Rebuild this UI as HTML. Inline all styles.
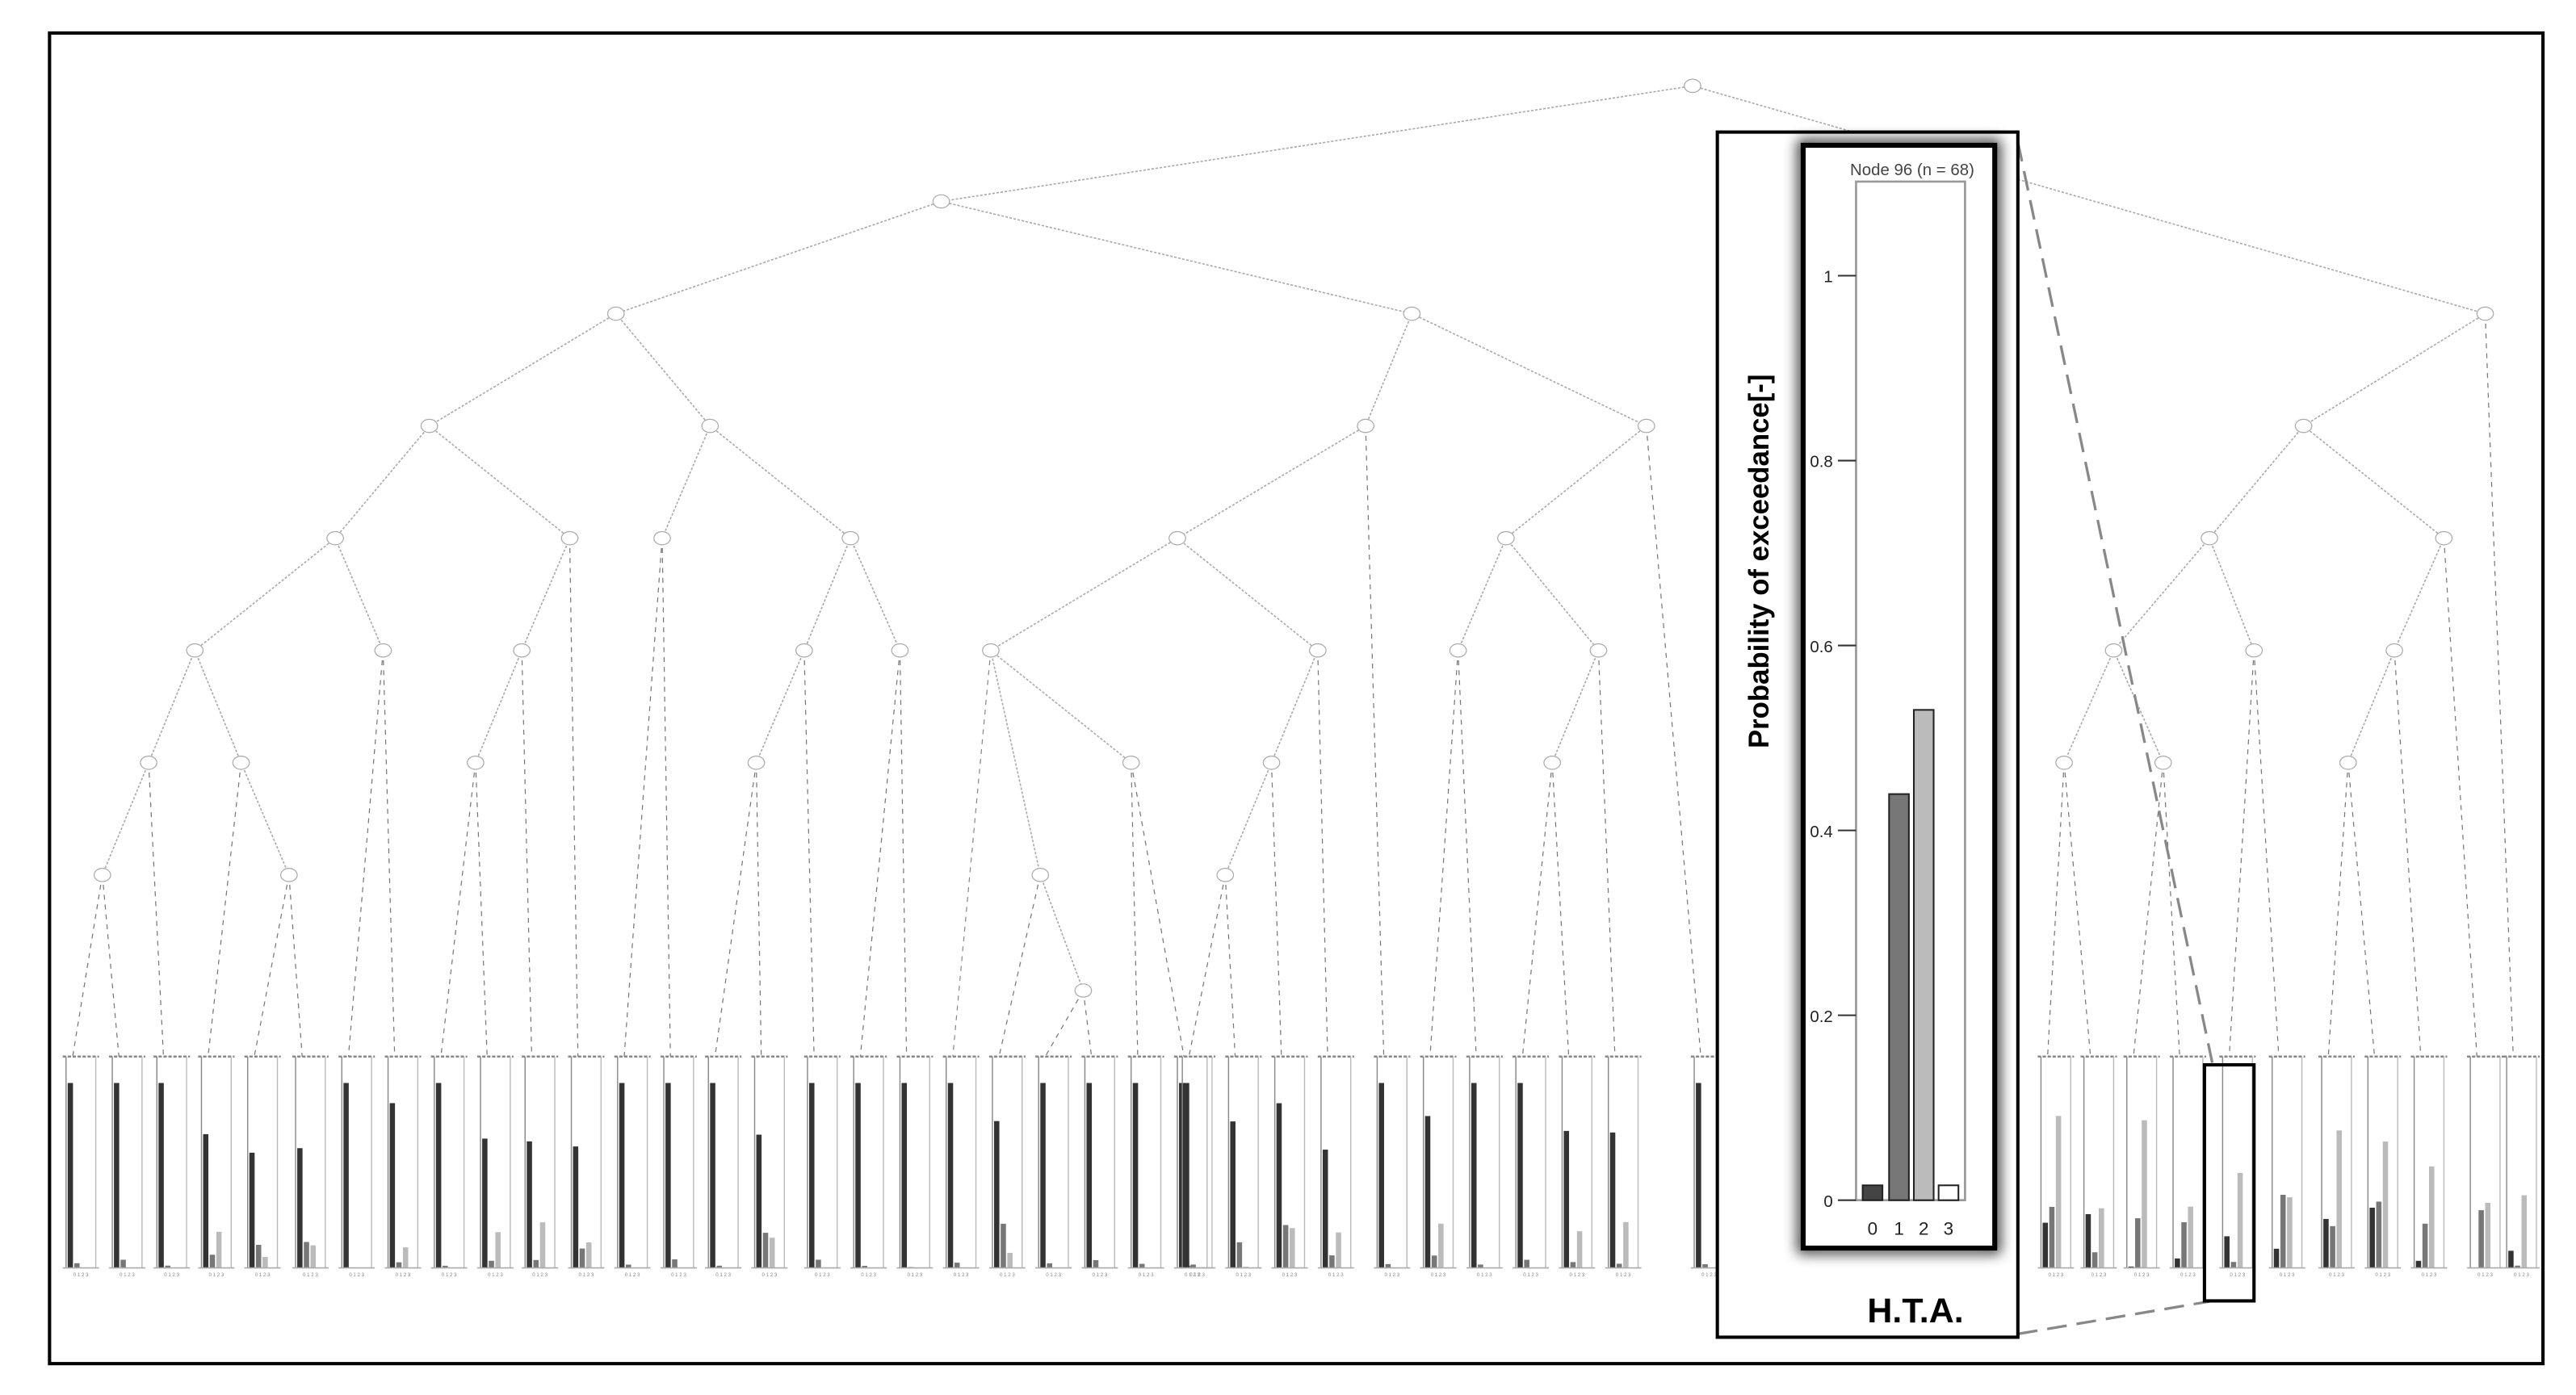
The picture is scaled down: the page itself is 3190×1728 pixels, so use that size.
<!DOCTYPE html>
<html><head><meta charset="utf-8"><style>
html,body{margin:0;padding:0;background:#fff;width:3190px;height:1728px;overflow:hidden}
svg{display:block}
</style></head><body>
<svg id="s" width="3190" height="1728" viewBox="0 0 1560 845" preserveAspectRatio="none" xmlns="http://www.w3.org/2000/svg">
<defs>
<filter id="sh" x="-30%" y="-10%" width="160%" height="120%"><feGaussianBlur stdDeviation="4"/></filter>
</defs>
<rect x="0" y="0" width="1560" height="845" fill="#fff"/>
<rect x="30" y="20" width="1510" height="806" fill="none" stroke="#000" stroke-width="2"/>
<g id="tree"></g>
<line x1="1222" y1="86" x2="1340" y2="645" stroke="#888" stroke-width="1.6" stroke-dasharray="12,6"/>
<line x1="1222" y1="808" x2="1340" y2="788" stroke="#888" stroke-width="1.6" stroke-dasharray="12,6"/>
<rect x="1335" y="645" width="30" height="143" fill="none" stroke="#000" stroke-width="2"/>
<rect x="1040" y="80" width="182" height="730" fill="#fff" stroke="#000" stroke-width="2"/>
<rect x="1092" y="88" width="116" height="668" fill="none" stroke="#000" stroke-width="7" filter="url(#sh)" opacity="0.8"/>
<rect x="1092" y="88" width="116" height="668" fill="#fff" stroke="#000" stroke-width="3"/>
<text x="1158" y="106" font-family="Liberation Sans, sans-serif" font-size="10" text-anchor="middle" fill="#444">Node 96 (n = 68)</text>
<rect x="1124" y="110" width="66" height="617" fill="none" stroke="#999" stroke-width="1.3"/>
<g font-family="Liberation Sans, sans-serif" font-size="10" fill="#222" text-anchor="end">
<text x="1110" y="171">1</text><line x1="1113" y1="167" x2="1124" y2="167" stroke="#333"/>
<text x="1110" y="283">0.8</text><line x1="1113" y1="279" x2="1124" y2="279" stroke="#333"/>
<text x="1110" y="395">0.6</text><line x1="1113" y1="391" x2="1124" y2="391" stroke="#333"/>
<text x="1110" y="507">0.4</text><line x1="1113" y1="503" x2="1124" y2="503" stroke="#333"/>
<text x="1110" y="619">0.2</text><line x1="1113" y1="615" x2="1124" y2="615" stroke="#333"/>
<text x="1110" y="731">0</text><line x1="1113" y1="727" x2="1124" y2="727" stroke="#333"/>
</g>
<rect x="1128" y="718" width="12" height="9" fill="#444" stroke="#222"/>
<rect x="1144" y="481" width="12" height="246" fill="#777" stroke="#222"/>
<rect x="1159" y="430" width="12" height="297" fill="#bbb" stroke="#222"/>
<rect x="1174" y="718" width="12" height="9" fill="#fff" stroke="#222"/>
<g font-family="Liberation Sans, sans-serif" font-size="11" fill="#222" text-anchor="middle">
<text x="1134" y="748">0</text><text x="1150" y="748">1</text><text x="1165" y="748">2</text><text x="1180" y="748">3</text>
</g>
<text transform="translate(1071,340) rotate(-90)" font-family="Liberation Sans, sans-serif" font-size="17" font-weight="bold" text-anchor="middle" fill="#000">Probability of exceedance[-]</text>
<text x="1160" y="801" font-family="Liberation Sans, sans-serif" font-size="21" font-weight="bold" text-anchor="middle" fill="#000">H.T.A.</text>
</svg>
<script>
(function(){
var g=document.getElementById('tree'),NS='http://www.w3.org/2000/svg';
function el(n,a){var e=document.createElementNS(NS,n);for(var k in a)e.setAttribute(k,a[k]);g.appendChild(e);return e;}
var N={r:[1025,52],a:[570,122],R:[1505,190],b:[373,190],c:[855,190],d:[260,258],e:[430,258],f:[203,326],h:[345,326],i:[118,394],j:[232,394],k:[90,462],l:[146,462],m:[62,530],n:[175,530],o:[316,394],p:[288,462],q:[401,326],s:[515,326],t:[487,394],u:[545,394],v:[458,462],w:[827,258],x:[997,258],y:[713,326],z:[600,394],A:[798,394],B:[630,530],C:[656,600],D:[685,462],E:[770,462],F:[742,530],G:[912,326],H:[883,394],I:[968,394],J:[940,462],K:[1395,258],L:[1338,326],M:[1480,326],O:[1280,394],P:[1365,394],Q:[1250,462],S:[1310,462],T:[1450,394],U:[1422,462]};
var E=[['r','a'],['r','R'],['a','b'],['a','c'],['b','d'],['b','e'],['d','f'],['d','h'],['f','i'],['f','j'],['i','k'],['i','l'],['k','m'],['k',99],['m',44],['m',72],['l',126],['l','n'],['n',154],['n',183],['j',211],['j',239],['h','o'],['h',350],['o','p'],['o',322],['p',267],['p',295],['e','q'],['e','s'],['q',378],['q',406],['s','t'],['s','u'],['t','v'],['t',493],['v',433],['v',461],['u',521],['u',549],['c','w'],['c','x'],['w','y'],['w',838],['y','z'],['y','A'],['z','B'],['z','D'],['B',605],['B','C'],['C',633],['C',661],['D',689],['D',717],['A','E'],['A',804],['E','F'],['E',776],['F',748],['F',720],['x','G'],['x',1030],['G','H'],['G','I'],['H',866],['H',894],['I','J'],['I',978],['J',922],['J',950],['R','K'],['R',1522],['K','L'],['K','M'],['L','O'],['L','P'],['O','Q'],['O','S'],['Q',1240],['Q',1266],['S',1292],['S',1320],['P',1350],['P',1380],['M','T'],['M',1500],['T','U'],['T',1466],['U',1410],['U',1438]];
var leaves=[577];
el('line',{x1:600,y1:394,x2:577,y2:640,stroke:'#888','stroke-width':0.6,'stroke-dasharray':'3,3'});
E.forEach(function(ed){var a=N[ed[0]],b;
 if(typeof ed[1]==='number'){b=[ed[1],640];leaves.push(ed[1]);el('line',{x1:a[0],y1:a[1],x2:b[0],y2:b[1],stroke:'#777','stroke-width':0.6,'stroke-dasharray':'3,3'});}
 else{b=N[ed[1]];el('line',{x1:a[0],y1:a[1],x2:b[0],y2:b[1],stroke:'#aaa','stroke-width':0.8,'stroke-dasharray':'1.5,1'});}
});
for(var k in N){el('ellipse',{cx:N[k][0],cy:N[k][1],rx:5,ry:4,fill:'#fff',stroke:'#aaa','stroke-width':0.6});}
var seed=7;function rnd(){seed=(seed*9301+49297)%233280;return seed/233280;}
leaves.forEach(function(x){
 if(x>1035&&x<1225)return;
 var L=x-6,R=x+16;
 el('line',{x1:L,y1:640,x2:R,y2:640,stroke:'#888','stroke-width':1.2,'stroke-dasharray':'2,1'});
 el('line',{x1:L+2,y1:640,x2:L+2,y2:768,stroke:'#888','stroke-width':0.7});
 el('line',{x1:R-2,y1:640,x2:R-2,y2:768,stroke:'#bbb','stroke-width':0.7});
 var base=768,H=112;
 var r=rnd(),v0,v1,v2;
 if(x>1225){v0=rnd()*0.35;v1=rnd()*0.5;v2=0.3+rnd()*0.6;}
 else if(r<0.5){v0=1;v1=rnd()*0.05;v2=0;}
 else {v0=0.6+rnd()*0.3;v1=rnd()*0.25;v2=rnd()*0.25;}
 [[v0,'#333',L+3],[v1,'#777',L+7],[v2,'#bbb',L+11]].forEach(function(b){
  el('rect',{x:b[2],y:base-b[0]*H,width:3.2,height:b[0]*H,fill:b[1]});});
 el('line',{x1:L,y1:768,x2:R,y2:768,stroke:'#aaa','stroke-width':0.8});
 el('text',{x:x+5,y:773,'font-size':3,'text-anchor':'middle',fill:'#888','font-family':'Liberation Sans, sans-serif'}).textContent='0 1 2 3';
});
})();
</script>
</body></html>
